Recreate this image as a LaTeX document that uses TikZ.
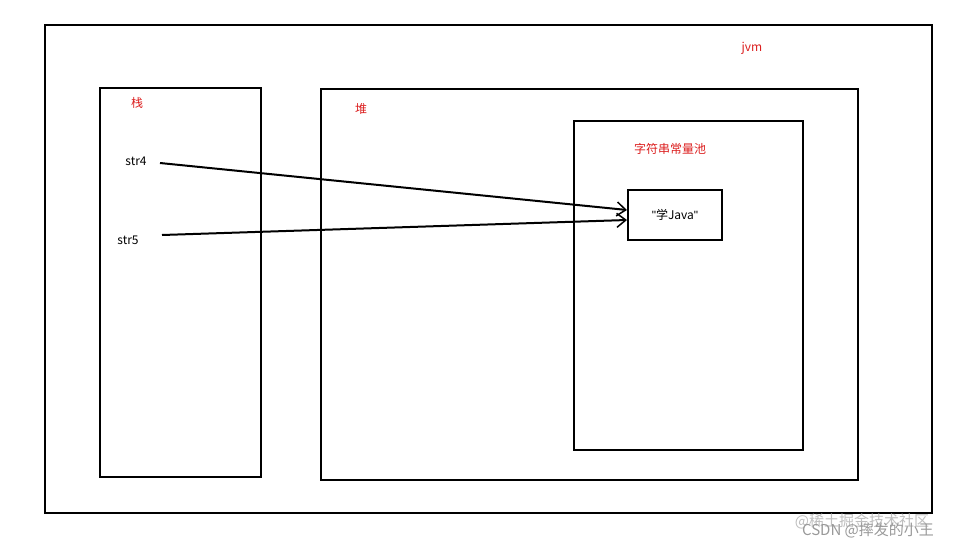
\documentclass[tikz,border=0pt]{standalone}
\usepackage{fontspec}
\setmainfont{Noto Sans CJK SC}
\newfontfamily\latinfont{Liberation Sans}
\usetikzlibrary{arrows.meta}
\definecolor{lblred}{RGB}{220,30,30}
\begin{document}
\begin{tikzpicture}[x=1pt,y=-1pt,
  box/.style={draw=black,line width=2pt},
  red/.style={text=lblred,font=\fontsize{12}{14}\selectfont,inner sep=0pt},
  blk/.style={text=black,font=\fontsize{12}{14}\selectfont,inner sep=0pt},
  ptr/.style={line width=2pt,-{Straight Barb[length=9pt,width=14pt,line width=1.5pt]}}]
\useasboundingbox[fill=white] (0,0) rectangle (972,549);
\draw[box] (45,25) rectangle (932,513);
\draw[box] (100,88) rectangle (261,477);
\draw[box] (321,89) rectangle (858,480);
\draw[box] (574,121) rectangle (803,450);
\node[box,minimum width=94pt,minimum height=50pt,inner sep=0pt,font=\fontsize{12}{14}\selectfont] (java) at (675,215) {{\latinfont\symbol{34}}学Java{\latinfont\symbol{34}}};
\node[red] (jvm) at (752,48) {jvm};
\node[red] (stack) at (137,103) {栈};
\node[red] (heap) at (361,109) {堆};
\node[red] (pool) at (670,149) {字符串常量池};
\node[blk] (s4) at (136,161) {str4};
\node[blk] (s5) at (128,240) {str5};
\coordinate (a4) at (160,163);
\coordinate (a5) at (162,235);
\draw[ptr] (a4) -- (java.west |- 0,210);
\draw[ptr] (a5) -- (java.west |- 0,220);
\node[text=gray!50,font=\fontsize{15}{17}\selectfont,inner sep=0pt] (wm1) at (862,521) {@稀土掘金技术社区};
\node[text=gray!80,font=\fontsize{15}{17}\selectfont,inner sep=0pt] (wm2) at (868,530) {CSDN @摔发的小王};
\end{tikzpicture}
\end{document}
